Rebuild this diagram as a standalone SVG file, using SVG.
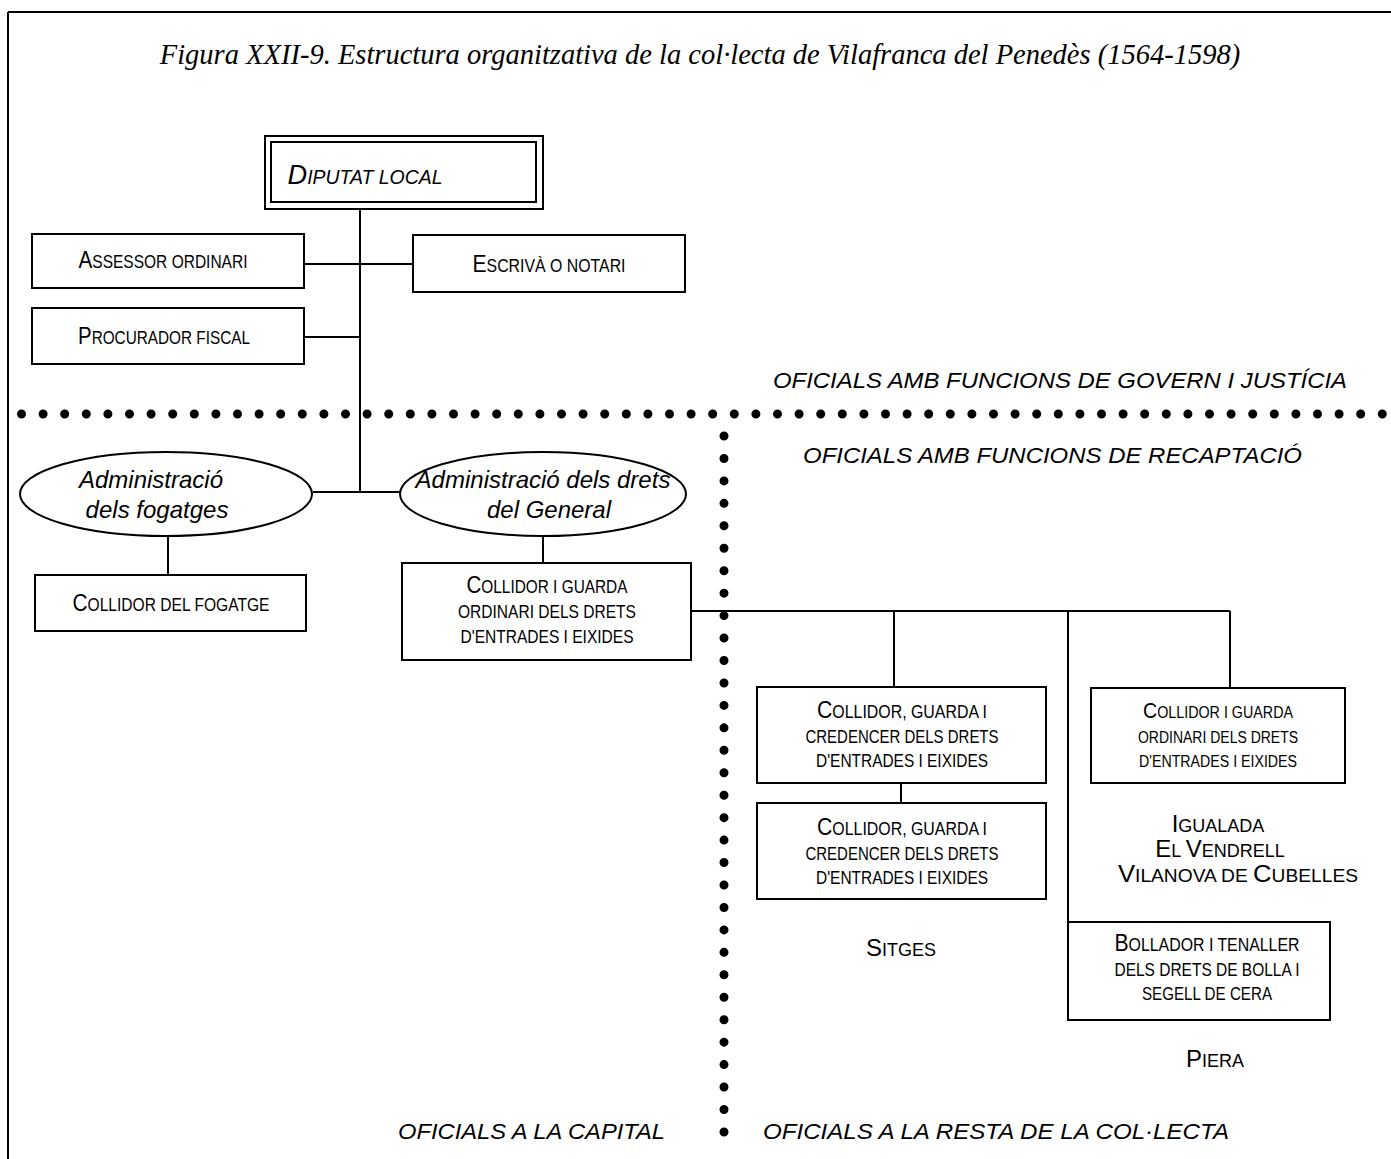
<svg xmlns="http://www.w3.org/2000/svg" width="1391" height="1159" viewBox="0 0 1391 1159">
<style>
.bx{fill:#fff;stroke:#000;stroke-width:2}
.ln{fill:none;stroke:#000;stroke-width:2}
.sc{font-family:"Liberation Sans",Arial,sans-serif;font-size:18px;fill:#000;text-anchor:middle}
.b{font-size:24px}
.s2{font-size:16px}
.b2{font-size:22px}
.it{font-style:italic}
.lab{font-family:"Liberation Sans",Arial,sans-serif;font-style:italic;font-size:22px;fill:#000}
.el{font-family:"Liberation Sans",Arial,sans-serif;font-style:italic;font-size:24px;fill:#000;text-anchor:middle}
.ttl{font-family:"Liberation Serif","Times New Roman",serif;font-style:italic;font-size:28.5px;fill:#000;text-anchor:middle}
.dot{fill:none;stroke:#000;stroke-width:9;stroke-linecap:round}
</style>
<rect width="1391" height="1159" fill="#fff"/>
<g id="frame">
<line x1="8" y1="12" x2="1391" y2="12" class="ln"/>
<line x1="8" y1="12" x2="8" y2="1159" class="ln"/>
</g>
<text id="title" x="700" y="64" class="ttl">Figura XXII-9. Estructura organitzativa de la col·lecta de Vilafranca del Penedès (1564-1598)</text>

<g id="connectors">
<line x1="360" y1="209" x2="360" y2="492" class="ln"/>
<line x1="304" y1="264" x2="413" y2="264" class="ln"/>
<line x1="304" y1="337" x2="360" y2="337" class="ln"/>
<line x1="313" y1="492" x2="400" y2="492" class="ln"/>
<line x1="168" y1="537" x2="168" y2="575" class="ln"/>
<line x1="543" y1="537" x2="543" y2="563" class="ln"/>
<line x1="691" y1="611" x2="1230" y2="611" class="ln"/>
<line x1="894" y1="611" x2="894" y2="687" class="ln"/>
<line x1="1068" y1="611" x2="1068" y2="922" class="ln"/>
<line x1="1230" y1="611" x2="1230" y2="688" class="ln"/>
<line x1="901" y1="783" x2="901" y2="803" class="ln"/>
</g>

<g id="dividers">
<line x1="21.5" y1="414" x2="1383" y2="414" class="dot" stroke-dasharray="0 21.6"/>
<line x1="724" y1="436" x2="724" y2="1133" class="dot" stroke-dasharray="0 22.45"/>
</g>

<g id="diputat">
<rect x="265" y="136" width="278" height="73" class="bx"/>
<rect x="271" y="142" width="265" height="60" class="bx"/>
<text x="365" y="184" class="sc it" style="font-size:20px" textLength="155" lengthAdjust="spacingAndGlyphs"><tspan style="font-size:28px">D</tspan>IPUTAT LOCAL</text>
</g>
<g id="assessor">
<rect x="32" y="234" width="272" height="54" class="bx"/>
<text x="163" y="268" class="sc" textLength="169" lengthAdjust="spacingAndGlyphs"><tspan class="b">A</tspan>SSESSOR ORDINARI</text>
</g>
<g id="procurador">
<rect x="32" y="308" width="272" height="56" class="bx"/>
<text x="164" y="344" class="sc" textLength="172" lengthAdjust="spacingAndGlyphs"><tspan class="b">P</tspan>ROCURADOR FISCAL</text>
</g>
<g id="escriva">
<rect x="413" y="235" width="272" height="57" class="bx"/>
<text x="549" y="272" class="sc" textLength="153" lengthAdjust="spacingAndGlyphs"><tspan class="b">E</tspan>SCRIVÀ O NOTARI</text>
</g>

<text id="lab-govern" x="773" y="388" class="lab" textLength="574" lengthAdjust="spacingAndGlyphs">OFICIALS AMB FUNCIONS DE GOVERN I JUSTÍCIA</text>
<text id="lab-recaptacio" x="803" y="463" class="lab" textLength="499" lengthAdjust="spacingAndGlyphs">OFICIALS AMB FUNCIONS DE RECAPTACIÓ</text>

<g id="adm-fogatges">
<ellipse cx="166" cy="494" rx="146" ry="42" class="bx"/>
<text x="151" y="488" class="el">Administració</text>
<text x="157" y="518" class="el">dels fogatges</text>
</g>
<g id="adm-general">
<ellipse cx="543" cy="494" rx="143" ry="42" class="bx"/>
<text x="543" y="488" class="el">Administració dels drets</text>
<text x="549" y="518" class="el">del General</text>
</g>

<g id="collidor-fogatge">
<rect x="35" y="575" width="271" height="56" class="bx"/>
<text x="171" y="611" class="sc" textLength="197" lengthAdjust="spacingAndGlyphs"><tspan class="b">C</tspan>OLLIDOR DEL FOGATGE</text>
</g>
<g id="collidor-capital">
<rect x="402" y="563" width="289" height="97" class="bx"/>
<text x="547" y="593" class="sc" textLength="161" lengthAdjust="spacingAndGlyphs"><tspan class="b">C</tspan>OLLIDOR I GUARDA</text>
<text x="547" y="618" class="sc" textLength="178" lengthAdjust="spacingAndGlyphs">ORDINARI DELS DRETS</text>
<text x="547" y="643" class="sc" textLength="173" lengthAdjust="spacingAndGlyphs">D'ENTRADES I EIXIDES</text>
</g>

<g id="sitges-1">
<rect x="757" y="687" width="289" height="96" class="bx"/>
<text x="902" y="718" class="sc" textLength="170" lengthAdjust="spacingAndGlyphs"><tspan class="b">C</tspan>OLLIDOR, GUARDA I</text>
<text x="902" y="743" class="sc" textLength="193" lengthAdjust="spacingAndGlyphs">CREDENCER DELS DRETS</text>
<text x="902" y="767" class="sc" textLength="172" lengthAdjust="spacingAndGlyphs">D'ENTRADES I EIXIDES</text>
</g>
<g id="sitges-2">
<rect x="757" y="803" width="289" height="96" class="bx"/>
<text x="902" y="835" class="sc" textLength="170" lengthAdjust="spacingAndGlyphs"><tspan class="b">C</tspan>OLLIDOR, GUARDA I</text>
<text x="902" y="860" class="sc" textLength="193" lengthAdjust="spacingAndGlyphs">CREDENCER DELS DRETS</text>
<text x="902" y="884" class="sc" textLength="172" lengthAdjust="spacingAndGlyphs">D'ENTRADES I EIXIDES</text>
</g>
<text id="lab-sitges" x="901" y="956" class="sc"><tspan class="b">S</tspan>ITGES</text>

<g id="collidor-resta">
<rect x="1091" y="688" width="254" height="95" class="bx"/>
<text x="1218" y="718" class="sc s2" textLength="150" lengthAdjust="spacingAndGlyphs"><tspan class="b2">C</tspan>OLLIDOR I GUARDA</text>
<text x="1218" y="743" class="sc s2" textLength="160" lengthAdjust="spacingAndGlyphs">ORDINARI DELS DRETS</text>
<text x="1218" y="767" class="sc s2" textLength="158" lengthAdjust="spacingAndGlyphs">D'ENTRADES I EIXIDES</text>
</g>
<g id="lab-pobles">
<text x="1218" y="832" class="sc"><tspan class="b">I</tspan>GUALADA</text>
<text x="1220" y="857" class="sc"><tspan class="b">E</tspan>L <tspan class="b">V</tspan>ENDRELL</text>
<text x="1238" y="882" class="sc" textLength="240" lengthAdjust="spacingAndGlyphs"><tspan class="b">V</tspan>ILANOVA DE <tspan class="b">C</tspan>UBELLES</text>
</g>

<g id="bollador">
<rect x="1068" y="922" width="262" height="98" class="bx"/>
<text x="1207" y="951" class="sc" textLength="185" lengthAdjust="spacingAndGlyphs"><tspan class="b">B</tspan>OLLADOR I TENALLER</text>
<text x="1207" y="976" class="sc" textLength="185" lengthAdjust="spacingAndGlyphs">DELS DRETS DE BOLLA I</text>
<text x="1207" y="1000" class="sc" textLength="130" lengthAdjust="spacingAndGlyphs">SEGELL DE CERA</text>
</g>
<text id="lab-piera" x="1215" y="1067" class="sc"><tspan class="b">P</tspan>IERA</text>

<text id="lab-capital" x="398" y="1139" class="lab" textLength="267" lengthAdjust="spacingAndGlyphs">OFICIALS A LA CAPITAL</text>
<text id="lab-resta" x="763" y="1139" class="lab" textLength="466" lengthAdjust="spacingAndGlyphs">OFICIALS A LA RESTA DE LA COL·LECTA</text>
</svg>
